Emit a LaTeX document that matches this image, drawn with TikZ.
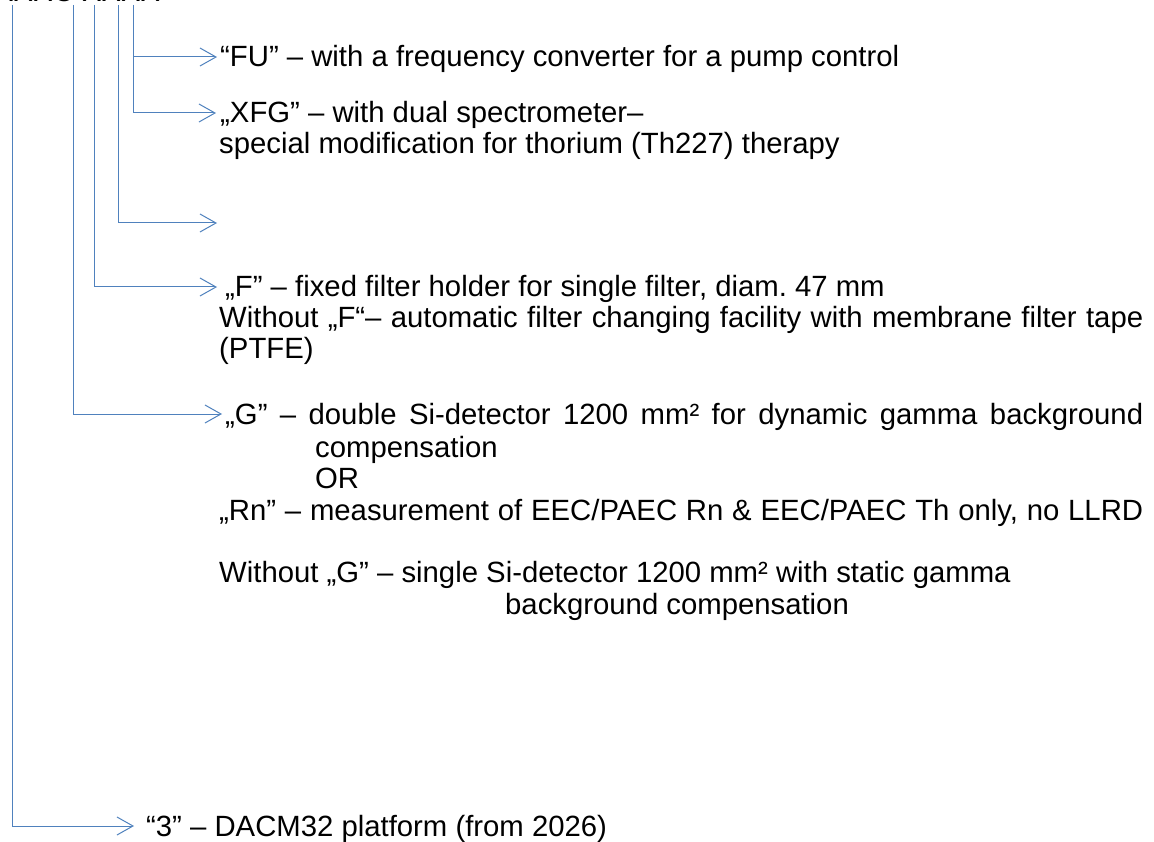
\documentclass[tikz,border=0pt]{standalone}
\usepackage{fontspec}
\setmainfont{Liberation Sans}
\usetikzlibrary{arrows.meta}
\frenchspacing

\definecolor{stemblue}{RGB}{79,129,189}

\begin{document}
\begin{tikzpicture}[x=1pt, y=-1pt,
    branch/.style={draw=stemblue, line width=1pt, -{Straight Barb[length=16pt, width=18pt]}},
    txt/.style={anchor=base west, inner sep=0pt, font=\fontsize{29.3}{34}\selectfont}]

\useasboundingbox (0,0) rectangle (1154,842);

% Order code, cut off at the top edge
\node[txt] (code) at (-6,2) {XXXC XXXX};

% Tops of the stems under the code letters
\coordinate (s1) at (12,5);
\coordinate (s2) at (73,5);
\coordinate (s3) at (94,5);
\coordinate (s4) at (118,5);
\coordinate (s5) at (133,5);

% Arrow tips
\coordinate (fu tip)  at (217,57);
\coordinate (xfg tip) at (216,113);
\coordinate (nil tip) at (217,223);
\coordinate (f tip)   at (217,287);
\coordinate (g tip)   at (222,414);
\coordinate (p tip)   at (134,826);

% Option texts
\node[txt] (fu) at (220,67) {“FU” – with a frequency converter for a pump control};

\node[txt] (xfg) at (220,123) {„XFG” – with dual spectrometer–};
\node[txt] (xfg2) at (219,154) {special modification for thorium (Th227) therapy};

\node[txt] (f) at (225,297) {„F” – fixed filter holder for single filter, diam. 47 mm};
\node[txt] (f2) at (219,327) {\makebox[924pt][s]{Without „F“– automatic filter changing facility with membrane filter tape}};
\node[txt] (f3) at (219,358) {(PTFE)};

\node[txt] (g) at (225,424) {\makebox[918pt][s]{„G” – double Si-detector 1200 mm² for dynamic gamma background}};
\node[txt] (g2) at (315,457) {compensation};
\node[txt] (g3) at (315,488) {OR};
\node[txt] (rn) at (219,520) {\makebox[924pt][s]{„Rn” – measurement of EEC/PAEC Rn \& EEC/PAEC Th only, no LLRD}};
\node[txt] (g4) at (219,582) {Without „G” – single Si-detector 1200 mm² with static gamma};
\node[txt] (g5) at (505,614) {background compensation};

\node[txt] (p) at (146,836) {“3” – DACM32 platform (from 2026)};

% Stems with their branches
\draw[branch] (s5) |- (fu tip);
\draw[branch] (s5) |- (xfg tip);
\draw[branch] (s4) |- (nil tip);
\draw[branch] (s3) |- (f tip);
\draw[branch] (s2) |- (g tip);
\draw[branch] (s1) |- (p tip);

\end{tikzpicture}
\end{document}
